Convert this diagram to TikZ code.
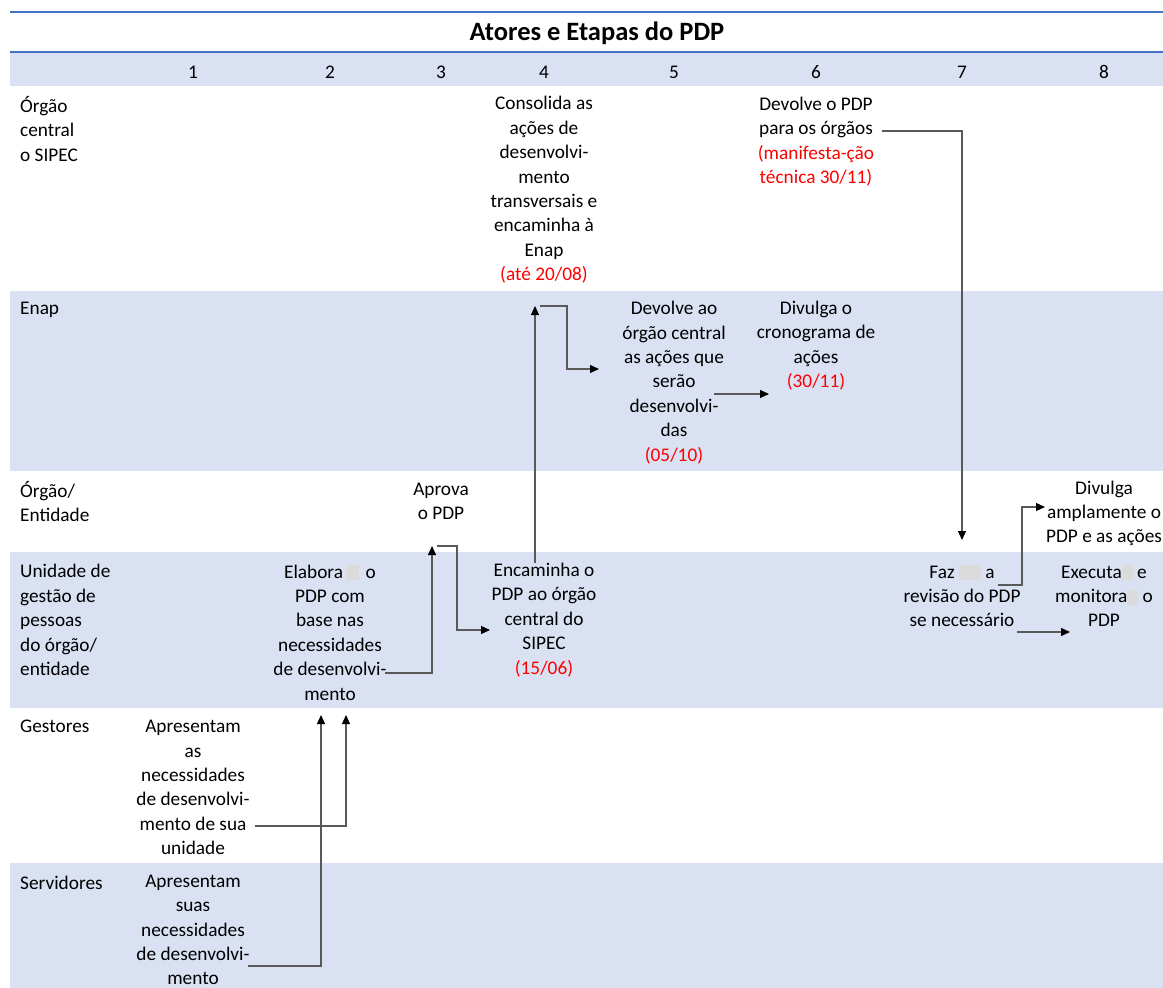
\documentclass[tikz,border=0pt]{standalone}
\usepackage{fontspec}
\setmainfont{Carlito}
\usepackage{xcolor}
\definecolor{faixa}{RGB}{217,225,242}
\definecolor{linha}{RGB}{68,114,196}
\definecolor{prazo}{RGB}{255,0,0}
\usepackage{tikz}
\usetikzlibrary{arrows.meta, calc}

\newcommand{\prazo}[1]{\textcolor{prazo}{#1}}
\newcommand{\borrao}[1]{\textcolor{black!14}{\rule[-2pt]{#1}{15pt}}}

\begin{document}
\begin{tikzpicture}[x=1pt, y=-1pt,
        etapa/.style={align=center, inner sep=0pt, font=\fontsize{19.3}{24.4}\selectfont},
        ator/.style={anchor=west, align=left, inner sep=0pt, font=\fontsize{19.3}{24.4}\selectfont},
        arrow/.style={-{Triangle[length=9pt, width=8pt, color=black]}, line width=1.1pt, color=black!65}
    ]
        \useasboundingbox (0,0) rectangle (1163,988);

        % faixas e linhas
        \fill[faixa] (10,53) rectangle (1163,86);
        \fill[faixa] (10,291) rectangle (1163,471);
        \fill[faixa] (10,552) rectangle (1163,708);
        \fill[faixa] (10,863) rectangle (1163,988);
        \draw[linha, line width=1.5pt] (10,12) -- (1163,12);
        \draw[linha, line width=1.5pt] (10,52) -- (1163,52);

        \node[font=\fontsize{26.5}{30}\selectfont\bfseries] (titulo) at (597,33) {Atores e Etapas do PDP};
        \foreach \n/\x in {1/193, 2/330, 3/441, 4/544, 5/674, 6/816, 7/962, 8/1104}
            \node[etapa] (num\n) at (\x,72) {\n};

        % atores
        \node[ator] (orgaoCentral) at (20,129) {Órgão\\central\\o SIPEC};
        \node[ator] (enap) at (20,309.5) {Enap};
        \node[ator] (orgaoEntidade) at (20,501.5) {Órgão/\\Entidade};
        \node[ator] (unidade) at (20,620) {Unidade de\\gestão de\\pessoas\\do órgão/\\entidade};
        \node[ator] (gestores) at (20,726.5) {Gestores};
        \node[ator] (servidores) at (20,882.5) {Servidores};

        % etapas
        \node[etapa] (consolida) at (544,190) {Consolida as\\ações de\\desenvolvi-\\mento\\transversais e\\encaminha à\\Enap\\\prazo{(até 20/08)}};
        \node[etapa] (devolvePDP) at (816,141.5) {Devolve o PDP\\para os órgãos\\\prazo{(manifesta-ção}\\\prazo{técnica 30/11)}};
        \node[etapa] (devolveAo) at (674,382.5) {Devolve ao\\órgão central\\as ações que\\serão\\desenvolvi-\\das\\\prazo{(05/10)}};
        \node[etapa] (divulgaCron) at (816,345.5) {Divulga o\\cronograma de\\ações\\\prazo{(30/11)}};
        \node[etapa] (aprova) at (441,501.5) {Aprova\\o PDP};
        \node[etapa] (divulgaAmpla) at (1104,513.5) {Divulga\\amplamente o\\PDP e as ações};
        \node[etapa] (elabora) at (330,632.5) {Elabora\,\borrao{13pt}\,\,o\\PDP com\\base nas\\necessidades\\de desenvolvi-\\mento};
        \node[etapa] (encaminha) at (544,620) {Encaminha o\\PDP ao órgão\\central do\\SIPEC\\\prazo{(15/06)}};
        \node[etapa] (faz) at (962,596) {Faz \borrao{22pt} a\\revisão do PDP\\se necessário};
        \node[etapa] (executa) at (1104,596) {Executa\borrao{11pt} e\\monitora\borrao{11pt} o\\PDP};
        \node[etapa] (apresG) at (193,787.5) {Apresentam\\as\\necessidades\\de desenvolvi-\\mento de sua\\unidade};
        \node[etapa] (apresS) at (193,930) {Apresentam\\suas\\necessidades\\de desenvolvi-\\mento};

        \draw[arrow] ([xshift=62pt,yshift=-38.5pt]apresG.center) -| ([xshift=16pt,yshift=-82.5pt]elabora.center);
        \draw[arrow] ([xshift=55pt,yshift=-36pt]apresS.center) -| ([xshift=-9pt,yshift=-82.5pt]elabora.center);
        \draw[arrow] ([xshift=55pt,yshift=-40.5pt]elabora.center) -| ([xshift=-9pt,yshift=-44.5pt]aprova.center);
        \draw[arrow] ([xshift=-4pt,yshift=-44.5pt]aprova.center) -- ++(20,0) |- ([xshift=-54pt,yshift=-10pt]encaminha.center);
        \draw[arrow] ([xshift=-9pt,yshift=57pt]encaminha.center) -- ([xshift=-9pt,yshift=-116pt]consolida.center);
        \draw[arrow] ([xshift=-4pt,yshift=-116pt]consolida.center) -- ++(27,0) |- ([xshift=-75pt,yshift=13.5pt]devolveAo.center);
        \draw[arrow] ([xshift=40pt,yshift=-11.5pt]devolveAo.center) -- ([xshift=-47pt,yshift=-48.5pt]divulgaCron.center);
        \draw[arrow] ([xshift=66pt,yshift=10.5pt]devolvePDP.center) -| ([yshift=56pt]faz.center);
        \draw[arrow] ([xshift=36pt,yshift=11pt]faz.center) -- ++(24,0) |- ([xshift=-59pt,yshift=6.5pt]divulgaAmpla.center);
        \draw[arrow] ([xshift=55pt,yshift=-36pt]faz.center) -- ([xshift=-34pt,yshift=-36pt]executa.center);
    \end{tikzpicture}
\end{document}
